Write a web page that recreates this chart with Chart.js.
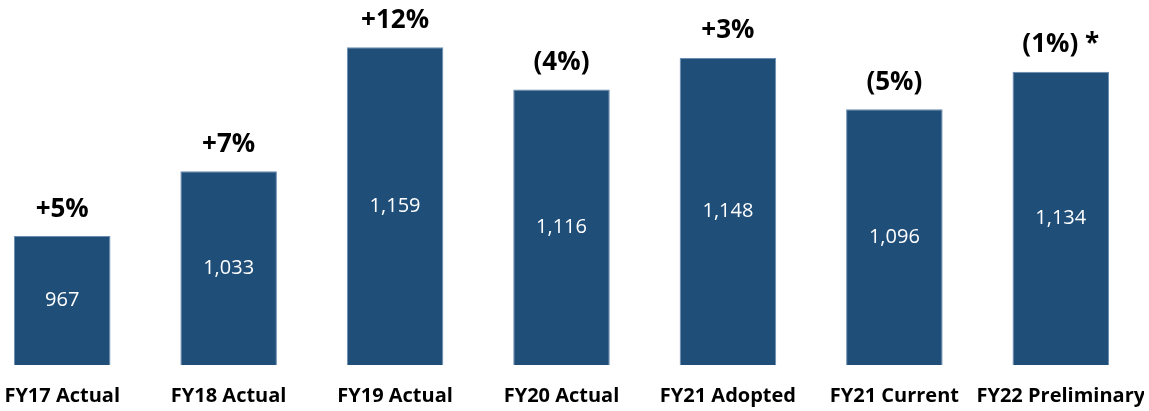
<!DOCTYPE html>
<html>
<head>
<meta charset="utf-8">
<script src="https://cdn.jsdelivr.net/npm/chart.js@4.4.1/dist/chart.umd.min.js"></script>
<style>
html,body{margin:0;padding:0;background:#fff;overflow:hidden;width:1149px;height:411px;}
#wrap{position:absolute;left:-21px;top:0;width:1165px;height:411px;}
</style>
</head>
<body>
<div id="wrap"><canvas id="c"></canvas></div>
<script>
const categories = ["FY17 Actual","FY18 Actual","FY19 Actual","FY20 Actual","FY21 Adopted","FY21 Current","FY22 Preliminary"];
const values = [967,1033,1159,1116,1148,1096,1134];
const valueLabels = ["967","1,033","1,159","1,116","1,148","1,096","1,134"];
const changeLabels = ["+5%","+7%","+12%","(4%)","+3%","(5%)","(1%) *"];
const yMin = 836, yMax = 1207;

const labelPlugin = {
  id:'barLabels',
  afterDatasetsDraw(chart){
    const ctx = chart.ctx;
    const meta = chart.getDatasetMeta(0);
    const yScale = chart.scales.y;
    const baseY = yScale.getPixelForValue(yMin);
    ctx.save();
    ctx.textAlign='center';
    ctx.textBaseline='middle';
    meta.data.forEach((bar,i)=>{
      const x = bar.x;
      const top = yScale.getPixelForValue(values[i]);
      ctx.fillStyle='#ffffff';
      ctx.font='400 20px "Open Sans"';
      ctx.fillText(valueLabels[i], x, (top+baseY)/2);
      ctx.fillStyle='#000000';
      ctx.font='700 26px "Open Sans"';
      ctx.fillText(changeLabels[i], x, top-27);
    });
    ctx.restore();
  }
};

new Chart(document.getElementById('c'),{
  type:'bar',
  data:{labels:categories,datasets:[{data:values,backgroundColor:'#1F4E79',borderColor:'#6A8CB1',borderWidth:1,categoryPercentage:1,barPercentage:0.58}]},
  options:{
    responsive:true,maintainAspectRatio:false,animation:false,
    layout:{padding:{top:0,bottom:0,left:0,right:0}},
    plugins:{legend:{display:false},tooltip:{enabled:false}},
    scales:{
      x:{grid:{display:false,drawTicks:false},border:{display:false},
         ticks:{color:'#000',padding:19,font:{family:'Open Sans',size:20,weight:'700'},maxRotation:0,autoSkip:false},
         afterFit(s){s.height=46;s.paddingLeft=0;s.paddingRight=0;}},
      y:{display:false,min:yMin,max:yMax}
    }
  },
  plugins:[labelPlugin]
});
</script>
</body>
</html>
